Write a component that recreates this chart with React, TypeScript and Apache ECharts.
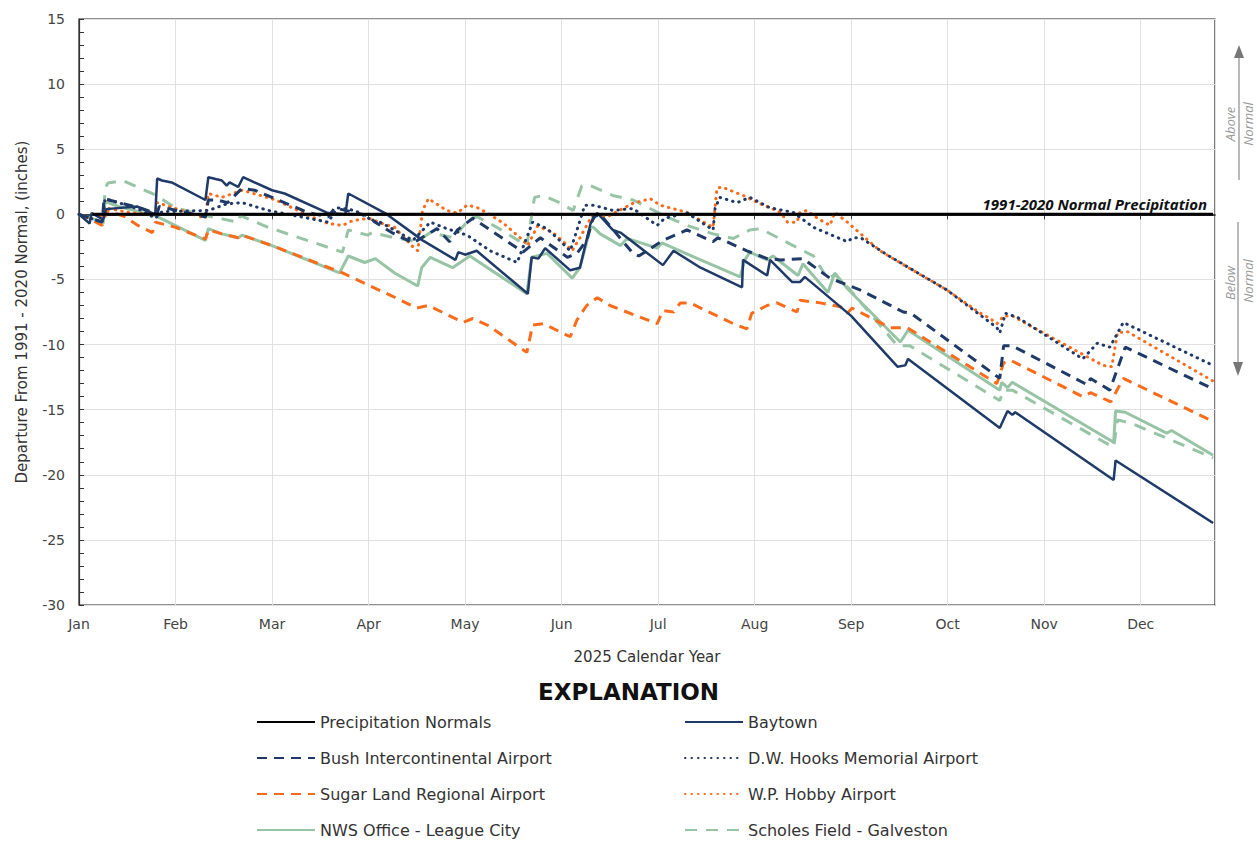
import React, { useEffect, useRef } from "react";
import * as echarts from "echarts";

// x values are in months since Jan 1 (0 = Jan 1, 1 = Feb 1, ...), y values are inches of departure
const MONTHS = ["Jan", "Feb", "Mar", "Apr", "May", "Jun", "Jul", "Aug", "Sep", "Oct", "Nov", "Dec"];
const Y_TICKS = [-30, 15, 5];

const NORMALS: [number, number][] = [[0.14, 0], [11.75, 0]];

const BAYTOWN: [number, number][] = [
  [0, 0], [0.11, -0.7], [0.13, 0.1], [0.25, -0.4], [0.28, 0.4], [0.6, 0.6], [0.79, 0.0], [0.81, 2.75],
  [0.86, 2.6], [0.96, 2.45], [1.31, 1.1], [1.34, 2.85], [1.48, 2.6], [1.53, 2.2], [1.56, 2.45], [1.65, 2.1],
  [1.7, 2.85], [2.0, 1.85], [2.13, 1.6], [2.58, 0.1], [2.76, 0.0], [2.79, 1.6], [3.17, 0.1], [3.56, -2.0],
  [3.9, -3.5], [3.93, -2.9], [4.0, -3.1], [4.12, -2.8], [4.65, -6.1], [4.69, -3.3], [4.76, -3.4], [4.83, -2.6],
  [5.09, -4.3], [5.19, -4.1], [5.3, -0.7], [5.37, 0.1], [5.53, -1.2], [5.61, -1.4], [6.05, -3.9], [6.16, -2.8],
  [6.44, -4.1], [6.87, -5.6], [6.88, -3.5], [7.13, -4.7], [7.16, -3.5], [7.39, -5.2], [7.47, -5.2], [7.52, -4.8],
  [8.0, -7.8], [8.48, -11.7], [8.56, -11.6], [8.59, -11.1], [9.54, -16.4], [9.62, -15.1], [9.67, -15.4],
  [9.7, -15.2], [10.72, -20.4], [10.74, -18.9], [11.75, -23.7],
];

const BUSH: [number, number][] = [
  [0, 0], [0.24, -0.6], [0.26, 1.2], [0.65, 0.45], [0.81, 0.05], [0.83, 0.6], [1.31, -0.2], [1.34, 1.1],
  [1.43, 1.1], [1.54, 0.9], [1.69, 2.0], [1.82, 1.85], [2.37, 0.15], [2.58, -0.2], [2.65, 0.5], [2.99, -0.1],
  [3.07, -0.6], [3.24, -1.4], [3.46, -2.2], [3.71, -1.1], [3.84, -2.1], [3.92, -1.2], [4.08, -0.3], [4.6, -2.9],
  [4.78, -1.8], [5.06, -3.3], [5.16, -3.0], [5.26, -2.0], [5.33, -0.2], [5.4, 0.0], [5.74, -3.0], [5.8, -3.2],
  [6.05, -2.0], [6.3, -1.2], [6.57, -2.1], [6.62, -1.8], [6.92, -2.8], [7.13, -3.4], [7.27, -3.5], [7.5, -3.4],
  [7.78, -4.9], [8.09, -5.8], [8.54, -7.5], [8.62, -7.6], [9.54, -12.6], [9.58, -10.1], [9.67, -10.1],
  [10.45, -13.1], [10.48, -12.6], [10.68, -13.5], [10.84, -10.2], [11.75, -13.4],
];

const HOOKS: [number, number][] = [
  [0, 0], [0.24, -0.6], [0.27, 1.2], [0.45, 0.8], [0.65, 0.3], [0.79, -0.3], [0.86, 0.2], [1.34, 0.3],
  [1.53, 0.8], [1.69, 0.9], [1.96, 0.3], [2.58, -0.6], [2.68, 0.5], [2.86, 0.3], [3.07, -0.6], [3.12, -0.6],
  [3.46, -2.0], [3.64, -0.6], [3.81, -1.1], [4.02, -1.6], [4.26, -2.8], [4.54, -3.7], [4.7, -0.6], [4.85, -1.1],
  [4.98, -2.0], [5.09, -2.8], [5.19, -0.5], [5.24, 0.7], [5.33, 0.7], [5.53, 0.3], [5.74, 0.45], [5.99, -0.85],
  [6.07, -0.3], [6.3, 0.1], [6.57, -1.2], [6.59, 0.45], [6.64, 1.3], [6.82, 0.9], [6.95, 1.3], [7.16, 0.5],
  [7.4, 0.15], [7.61, -1.0], [7.96, -2.1], [8.02, -1.8], [8.1, -1.8], [8.37, -3.1], [8.99, -5.8], [9.51, -8.7],
  [9.54, -9.1], [9.6, -7.6], [9.72, -7.9], [10.4, -11.1], [10.55, -9.9], [10.68, -10.2], [10.82, -8.3],
  [11.75, -11.6],
];

const SUGAR_LAND: [number, number][] = [
  [0, 0], [0.1, -0.3], [0.24, -0.85], [0.29, 0.3], [0.48, -0.2], [0.61, -0.85], [0.76, -1.4], [0.79, -0.6],
  [1.0, -1.0], [1.31, -1.9], [1.34, -1.2], [1.48, -1.5], [1.65, -1.8], [1.69, -1.6], [2.0, -2.4], [2.73, -4.5],
  [2.96, -5.3], [3.25, -6.3], [3.5, -7.2], [3.62, -7.0], [3.98, -8.3], [4.08, -8.0], [4.23, -8.5], [4.64, -10.6],
  [4.7, -8.5], [4.81, -8.4], [5.09, -9.4], [5.16, -8.1], [5.26, -7.0], [5.37, -6.4], [5.5, -7.0], [5.99, -8.4],
  [6.05, -7.4], [6.16, -7.5], [6.23, -6.8], [6.33, -6.8], [6.78, -8.4], [6.92, -8.8], [6.97, -7.6], [7.13, -7.0],
  [7.23, -6.8], [7.44, -7.5], [7.47, -6.6], [7.68, -6.8], [7.89, -7.1], [7.96, -7.6], [8.01, -7.2], [8.4, -8.7],
  [8.58, -8.7], [9.51, -13.0], [9.58, -11.4], [9.65, -11.2], [10.4, -14.0], [10.48, -13.7], [10.69, -14.4],
  [10.82, -12.6], [11.75, -15.9],
];

const HOBBY: [number, number][] = [
  [0, 0], [0.2, -0.5], [0.27, 0.5], [0.55, 0.1], [0.79, 0.0], [0.81, 0.9], [1.31, -0.3], [1.34, 1.6],
  [1.48, 1.3], [1.69, 1.85], [2.04, 1.1], [2.38, -0.1], [2.58, -0.7], [2.73, -0.85], [2.83, -0.5], [3.0, -0.3],
  [3.14, -0.7], [3.27, -1.0], [3.46, -2.5], [3.51, -2.8], [3.56, 0.3], [3.62, 1.2], [3.81, 0.3], [3.92, 0.1],
  [4.02, 0.7], [4.12, 0.55], [4.23, 0.1], [4.4, -0.7], [4.6, -2.0], [4.65, -2.4], [4.75, -0.9], [4.91, -1.4],
  [5.02, -2.1], [5.11, -2.8], [5.19, -1.8], [5.33, 0.1], [5.47, -0.2], [5.74, 0.85], [5.92, 1.2], [6.02, 0.7],
  [6.3, 0.15], [6.4, -0.3], [6.57, -1.0], [6.61, 2.0], [6.66, 2.1], [6.88, 1.45], [7.03, 0.9], [7.27, 0.15],
  [7.34, -0.6], [7.44, -0.6], [7.47, 0.15], [7.54, 0.3], [7.65, -0.3], [7.78, -0.85], [7.83, 0.15], [7.96, -0.6],
  [8.3, -2.8], [8.64, -4.3], [8.99, -5.8], [9.34, -7.6], [9.44, -8.0], [9.51, -8.4], [9.58, -7.8], [9.67, -7.8],
  [10.61, -11.6], [10.7, -11.7], [10.76, -9.1], [10.86, -9.0], [11.75, -12.8],
];

const NWS: [number, number][] = [
  [0, 0], [0.25, -0.6], [0.27, 1.0], [0.41, 0.6], [0.65, 0.15], [0.79, -0.1], [1.31, -2.0], [1.34, -1.1],
  [1.48, -1.5], [1.65, -1.8], [1.69, -1.6], [2.0, -2.4], [2.7, -4.5], [2.79, -3.2], [2.96, -3.7], [3.07, -3.4],
  [3.27, -4.5], [3.51, -5.5], [3.55, -4.1], [3.64, -3.3], [3.87, -4.1], [3.95, -3.7], [4.05, -3.2], [4.64, -6.1],
  [4.69, -3.3], [4.85, -3.0], [5.11, -4.9], [5.19, -4.1], [5.3, -1.0], [5.33, -1.0], [5.4, -1.5], [5.61, -2.4],
  [5.68, -1.85], [5.99, -2.6], [6.04, -2.2], [6.44, -3.5], [6.85, -4.8], [6.9, -3.5], [6.95, -2.9], [7.13, -3.5],
  [7.19, -3.2], [7.45, -4.7], [7.5, -3.8], [7.76, -6.0], [7.83, -4.5], [7.96, -5.7], [8.51, -9.8], [8.59, -8.9],
  [9.54, -13.5], [9.56, -12.9], [9.62, -13.3], [9.67, -12.9], [10.72, -17.5], [10.74, -15.1], [10.84, -15.2],
  [11.27, -16.8], [11.32, -16.6], [11.75, -18.5],
];

const SCHOLES: [number, number][] = [
  [0, 0], [0.25, -0.7], [0.27, 2.0], [0.3, 2.4], [0.45, 2.6], [0.79, 1.5], [1.0, 0.5], [1.31, -0.1],
  [1.65, -0.6], [1.67, -0.1], [1.96, -1.0], [2.73, -2.9], [2.79, -1.2], [2.99, -1.6], [3.04, -1.4], [3.27, -1.8],
  [3.5, -2.1], [3.64, -1.4], [3.88, -1.8], [4.05, -0.3], [4.13, -0.2], [4.33, -1.0], [4.64, -2.4], [4.72, 1.3],
  [4.81, 1.45], [4.98, 0.9], [5.12, 0.3], [5.21, 2.2], [5.3, 2.2], [5.53, 1.45], [5.74, 1.1], [6.09, -0.2],
  [6.3, -0.85], [6.57, -1.5], [6.78, -1.85], [6.95, -1.2], [7.06, -1.1], [7.4, -2.4], [7.61, -3.2], [7.76, -5.0],
  [7.83, -4.6], [7.99, -5.8], [8.48, -10.1], [8.61, -10.1], [9.54, -14.3], [9.58, -13.5], [9.67, -13.5],
  [10.72, -17.9], [10.76, -15.8], [10.89, -16.0], [11.75, -18.7],
];

const NAVY = "#1f3a68";
const ORANGE = "#fa6c1c";
const GREEN = "#98c4a6";
const FONT = "'DejaVu Sans', 'Open Sans', sans-serif";
const ITALIC_FONT = "'Open Sans', 'DejaVu Sans', sans-serif";

const LEFT_LEGEND = ["Precipitation Normals", "Bush Intercontinental Airport", "Sugar Land Regional Airport", "NWS Office - League City"];
const RIGHT_LEGEND = ["Baytown", "D.W. Hooks Memorial Airport", "W.P. Hobby Airport", "Scholes Field - Galveston"];

function line(name: string, data: [number, number][], color: string, width: number, type: any, z = 2) {
  return {
    name,
    type: "line",
    data,
    symbol: "none",
    z,
    lineStyle: { color, width, type, cap: Array.isArray(type) && type[0] <= 1 ? "round" : "butt" },
    itemStyle: { color },
  };
}

export default function App() {
  const ref = useRef<HTMLDivElement>(null);
  useEffect(() => {
    if (!ref.current) return;
    const chart = echarts.init(ref.current, null, { renderer: "svg" });
    const legendCommon = {
      orient: "vertical",
      itemWidth: 58,
      itemHeight: 14,
      itemGap: 20,
      padding: 0,
      itemStyle: { opacity: 0 },
      textStyle: { fontFamily: FONT, fontSize: 16, color: "#333" },
      selectedMode: false,
    };
    chart.setOption({
      animation: false,
      title: {
        text: "EXPLANATION",
        left: "center",
        top: 675,
        textStyle: { fontFamily: "'DejaVu Sans', sans-serif", fontWeight: "bold", fontSize: 23, color: "#111" },
      },
      legend: [
        { ...legendCommon, left: 256, top: 714, data: LEFT_LEGEND },
        { ...legendCommon, left: 684, top: 714, data: RIGHT_LEGEND },
      ],
      grid: { left: 79, right: 42, top: 19, bottom: 237, show: true, borderColor: "#222", borderWidth: 1.2 },
      xAxis: {
        type: "value",
        min: 0,
        max: 11.77,
        interval: 1,
        name: "2025 Calendar Year",
        nameLocation: "middle",
        nameGap: 44,
        nameTextStyle: { fontFamily: FONT, fontSize: 15, color: "#333" },
        axisLine: { show: true, lineStyle: { color: "#111", width: 1.5 } },
        axisTick: { show: true, length: 5, lineStyle: { color: "#444" } },
        axisLabel: {
          fontFamily: FONT,
          fontSize: 14,
          color: "#444",
          margin: 12,
          showMaxLabel: false,
          formatter: (v: number) => (Number.isInteger(v) ? MONTHS[v] ?? "" : ""),
        },
        splitLine: { show: true, lineStyle: { color: "#e0e0e0", width: 1 } },
      },
      yAxis: {
        type: "value",
        min: Y_TICKS[0],
        max: Y_TICKS[1],
        interval: Y_TICKS[2],
        name: "Departure From 1991 - 2020 Normal, (inches)",
        nameLocation: "middle",
        nameGap: 50,
        nameTextStyle: { fontFamily: FONT, fontSize: 15, color: "#333" },
        axisLine: { show: true, lineStyle: { color: "#333", width: 1.2 } },
        axisTick: { show: true, inside: true, length: 5, lineStyle: { color: "#333" } },
        minorTick: { show: true, splitNumber: 5, length: 5, lineStyle: { color: "#333" } },
        axisLabel: { fontFamily: FONT, fontSize: 14, color: "#444", margin: 14 },
        splitLine: { show: true, lineStyle: { color: "#e0e0e0", width: 1 } },
      },
      series: [
        line("NWS Office - League City", NWS, GREEN, 3, "solid"),
        line("Scholes Field - Galveston", SCHOLES, GREEN, 3, [12, 9]),
        line("Sugar Land Regional Airport", SUGAR_LAND, ORANGE, 3, [10, 7]),
        line("W.P. Hobby Airport", HOBBY, ORANGE, 3, [0.5, 6]),
        line("D.W. Hooks Memorial Airport", HOOKS, NAVY, 3, [0.5, 6]),
        line("Bush Intercontinental Airport", BUSH, NAVY, 3, [10, 7]),
        line("Baytown", BAYTOWN, NAVY, 2.5, "solid"),
        {
          ...line("Precipitation Normals", NORMALS, "#000", 3, "solid", 5),
          endLabel: {
            show: true,
            formatter: "1991-2020 Normal Precipitation",
            align: "right",
            offset: [-14, -10],
            fontFamily: ITALIC_FONT,
            fontStyle: "italic",
            fontWeight: "bold",
            fontSize: 15,
            color: "#111",
          },
        },
      ],
      graphic: [
        { type: "line", shape: { x1: 1239, y1: 180, x2: 1239, y2: 56 }, style: { stroke: "#8a8a8a", lineWidth: 1.2 } },
        { type: "polygon", shape: { points: [[1234, 58], [1244, 58], [1239, 45]] }, style: { fill: "#777" } },
        { type: "text", x: 1230, y: 124, rotation: Math.PI / 2, style: { text: "Above", fontFamily: ITALIC_FONT, fontStyle: "italic", fontSize: 13, fill: "#999", align: "center", verticalAlign: "middle" } },
        { type: "text", x: 1248, y: 124, rotation: Math.PI / 2, style: { text: "Normal", fontFamily: ITALIC_FONT, fontStyle: "italic", fontSize: 13, fill: "#999", align: "center", verticalAlign: "middle" } },
        { type: "line", shape: { x1: 1238, y1: 222, x2: 1238, y2: 364 }, style: { stroke: "#8a8a8a", lineWidth: 1.2 } },
        { type: "polygon", shape: { points: [[1233, 362], [1243, 362], [1238, 376]] }, style: { fill: "#777" } },
        { type: "text", x: 1230, y: 283, rotation: Math.PI / 2, style: { text: "Below", fontFamily: ITALIC_FONT, fontStyle: "italic", fontSize: 13, fill: "#999", align: "center", verticalAlign: "middle" } },
        { type: "text", x: 1248, y: 281, rotation: Math.PI / 2, style: { text: "Normal", fontFamily: ITALIC_FONT, fontStyle: "italic", fontSize: 13, fill: "#999", align: "center", verticalAlign: "middle" } },
      ],
    });
    return () => chart.dispose();
  }, []);
  return <div ref={ref} style={{ position: "fixed", left: 0, top: 0, width: 1257, height: 842, background: "#fff" }} />;
}
